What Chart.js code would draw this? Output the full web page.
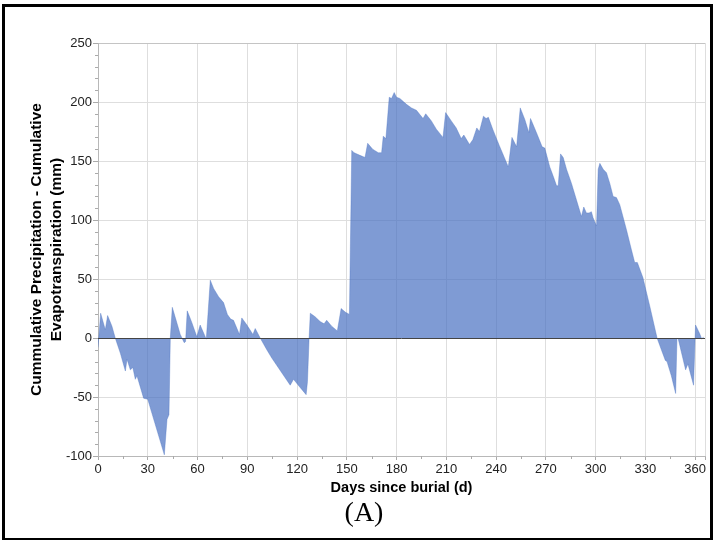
<!DOCTYPE html>
<html>
<head>
<meta charset="utf-8">
<script src="https://cdn.jsdelivr.net/npm/chart.js@4"></script>
<style>
  html, body { margin: 0; padding: 0; background: #fff; }
  #wrap { position: relative; width: 713px; height: 540px; overflow: hidden; }
  #frame { position: absolute; left: 2px; top: 4px; width: 711px; height: 537px; box-sizing: border-box; border: 3px solid #000; }
  #label { position: absolute; left: 300px; width: 128px; top: 496px; text-align: center; font: 28px "Liberation Serif", "Times New Roman", serif; color: #000; }
  canvas { position: absolute; left: 0; top: 0; }
</style>
</head>
<body>
<div id="wrap">
  <canvas id="myChart" width="713" height="540"></canvas>
  <div id="frame"></div>
  <div id="label">(A)</div>
</div>
<script>
// days since burial and cumulative P - ET (mm)
const days = [0, 1.6, 4.4, 5.8, 8.4, 10.4, 13.5, 16.5, 17.5, 19.5, 21, 22.5, 23.5, 27.5, 30, 40, 41.6, 42.8, 43.6, 44.8,
  49.6, 52, 52.8, 53.8, 56.6, 59.6, 61.6, 65.3, 67.7, 69.7, 72.7, 75.7, 78, 80, 81.7, 85.3, 86.7, 89.8, 93.4, 94.8,
  97.8, 101.8, 104.8, 115.9, 117.9, 121.9, 125.5, 126.3, 127.3, 128, 130.9, 133.9, 136.3, 137.9, 140.9, 144.3, 146.6, 149, 151.6,
  153, 154.4, 157.6, 161, 162.6, 165.6, 169, 171, 172, 173.6, 175.6, 177, 178.6, 180, 182, 186, 189, 192, 196, 197.6,
  201, 204, 208, 209.6, 213, 216, 219, 220.6, 224, 226, 228.4, 230, 232.4, 234, 235.4, 238, 242, 245, 247.4, 249.6,
  252.4, 254.6, 257.4, 259.8, 260.8, 264.4, 267.8, 269.4, 272.4, 274.5, 276.5, 277.5, 278.9, 280.5, 282.5, 285.5, 288.5,
  291.5, 292.9, 294.5, 296.1, 297.5, 298.5, 300.6, 301.6, 302.6, 304.6, 306.6, 308.6, 310.6, 312.6, 314.6, 318.6, 321.6,
  323.6, 325.2, 328.6, 332.7, 337.1, 339.7, 342.1, 343.1, 345.7, 348.3, 349.1, 349.9, 354.3, 355.7, 359.1, 360.3, 362.7,
  364.1, 365.1];
const values = [-8, 21, 7, 19, 10, 0, -13, -28, -18, -27, -25, -35, -32, -51, -52, -99, -69, -65, 0, 26,
  3, -4, -3, 23, 13, 1, 11, -1, 49, 42, 35, 30, 20, 16, 15, 3, 17, 11, 3, 8,
  0, -10, -17, -40, -35, -42, -48, -37, 0, 21, 18, 14, 12, 15, 10, 6, 25, 22, 20,
  159, 157, 155, 153, 165, 160, 157, 157, 171, 169, 204, 203, 208, 204, 203, 198, 195, 193, 186, 190,
  184, 177, 170, 191, 184, 178, 169, 172, 164, 168, 178, 175, 188, 186, 187, 177, 163, 153, 145, 170,
  162, 195, 185, 174, 186, 174, 162, 161, 145, 137, 129, 129, 156, 153, 143, 131, 117,
  103, 111, 106, 106, 107, 102, 95, 143, 148, 143, 140, 131, 120, 119, 113, 92, 75,
  64, 64, 51, 27, 0, -10, -19, -20, -32, -47, 0, -1, -27, -22, -40, 11, 4,
  -1, 1];

const xTicks = [0, 30, 60, 90, 120, 150, 180, 210, 240, 270, 300, 330, 360];
const yTicks = [-100, -50, 0, 50, 100, 150, 200, 250];

const points = days.map((d, i) => ({x: d, y: values[i]}));
const fontFamily = "'Liberation Sans', Arial, sans-serif";

// short minor ticks and the zero line over the fill
const extras = {
  id: 'extras',
  afterDatasetsDraw(chart) {
    const {ctx, chartArea, scales} = chart;
    ctx.save();
    ctx.strokeStyle = '#aaa';
    ctx.lineWidth = 1;
    ctx.beginPath();
    for (let v = -90; v < 250; v += 10) {
      if (v % 50 === 0) continue;
      const y = Math.round(scales.y.getPixelForValue(v)) + 0.5;
      ctx.moveTo(chartArea.left - 3, y);
      ctx.lineTo(chartArea.left, y);
    }
    for (let d = 15; d < 366; d += 30) {
      const x = Math.round(scales.x.getPixelForValue(d)) + 0.5;
      ctx.moveTo(x, chartArea.bottom);
      ctx.lineTo(x, chartArea.bottom + 3);
    }
    ctx.stroke();
    const y0 = Math.round(scales.y.getPixelForValue(0)) + 0.5;
    ctx.strokeStyle = '#444';
    ctx.beginPath();
    ctx.moveTo(chartArea.left, y0);
    ctx.lineTo(chartArea.right, y0);
    ctx.stroke();
    ctx.restore();
  }
};

new Chart(document.getElementById('myChart'), {
  type: 'line',
  data: {
    datasets: [{
      data: points,
      fill: 'origin',
      backgroundColor: 'rgba(72, 112, 194, 0.7)',
      borderColor: 'rgba(72, 112, 194, 0.75)',
      borderWidth: 0.5,
      pointRadius: 0,
      tension: 0
    }]
  },
  options: {
    responsive: false,
    animation: false,
    layout: {padding: {top: 43, right: 8, left: 0, bottom: 0}},
    plugins: {legend: {display: false}, tooltip: {enabled: false}},
    scales: {
      x: {
        type: 'linear',
        min: 0,
        max: 366,
        afterBuildTicks: s => { s.ticks = xTicks.concat([366]).map(v => ({value: v})); },
        afterFit: s => { s.height = 84; },
        grid: {color: '#dedede', tickColor: '#aaa', tickLength: 4},
        border: {color: '#b8b8b8'},
        ticks: {
          padding: 2,
          color: '#222',
          font: {family: fontFamily, size: 13},
          maxRotation: 0,
          callback: v => (v % 30 === 0 ? v : '')
        },
        title: {
          display: true,
          text: 'Days since burial (d)',
          color: '#000',
          font: {family: fontFamily, size: 14.5, weight: 'bold'},
          padding: {top: 0, bottom: 43}
        }
      },
      y: {
        min: -100,
        max: 250,
        afterBuildTicks: s => { s.ticks = yTicks.map(v => ({value: v})); },
        afterFit: s => { s.width = 98; },
        grid: {color: c => (c.tick && c.tick.value === 250 ? '#c4c4c4' : '#dedede'), tickColor: '#aaa', tickLength: 5},
        border: {color: '#b8b8b8'},
        ticks: {
          padding: 1,
          color: '#222',
          font: {family: fontFamily, size: 13}
        },
        title: {
          display: true,
          text: ['Cummulative Precipitation - Cumulative', 'Evapotranspiration (mm)'],
          color: '#000',
          font: {family: fontFamily, size: 15.5, weight: 'bold', lineHeight: '20px'},
          padding: {top: 27, bottom: 0}
        }
      }
    }
  },
  plugins: [extras]
});
</script>
</body>
</html>
